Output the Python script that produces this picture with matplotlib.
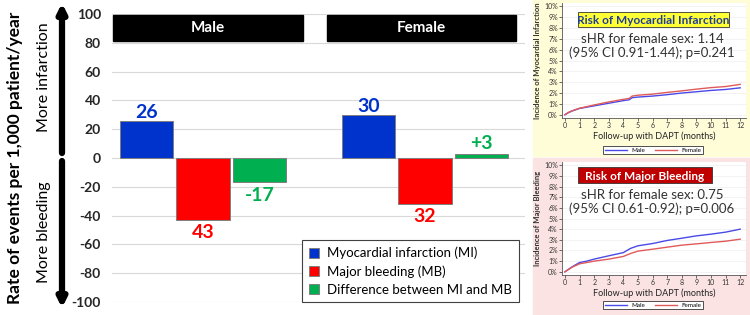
import numpy as np
import matplotlib
matplotlib.use("Agg")
import matplotlib.pyplot as plt
from matplotlib.patches import Rectangle

plt.rcParams['font.family'] = ['Lato', 'DejaVu Sans']

##--------------------------------------##
##               DATA                   ##
##--------------------------------------##
grupos = ["Male", "Female"]
series = ["Myocardial infarction (MI)", "Major bleeding (MB)", "Difference between MI and MB"]
mi = [26, 30]
mb = [-43, -32]
dif = [-17, 3]
etiq_mi = ["26", "30"]
etiq_mb = ["43", "32"]
etiq_dif = ["-17", "+3"]
yticks = [100, 80, 60, 40, 20, 0, -20, -40, -60, -80, -100]

# curvas de incidencia
meses_mi = [0, 0.25, 0.5, 1, 2, 3, 4, 4.4, 4.6, 5, 6, 7, 8, 9, 10, 11, 12]
mi_male = [0, 0.2, 0.35, 0.58, 0.82, 1.06, 1.3, 1.38, 1.57, 1.63, 1.72, 1.85, 2.0, 2.12, 2.24, 2.33, 2.48]
mi_female = [0, 0.22, 0.37, 0.6, 0.9, 1.18, 1.42, 1.5, 1.72, 1.8, 1.9, 2.06, 2.2, 2.36, 2.5, 2.6, 2.8]
sub_mi = ["sHR for female sex: 1.14", "(95% CI 0.91-1.44); p=0.241"]

meses_mb = [0, 0.5, 1, 1.5, 2, 3, 4, 4.5, 5, 6, 7, 8, 9, 10, 11, 12]
mb_male = [0, 0.47, 0.87, 1.0, 1.19, 1.5, 1.8, 2.2, 2.44, 2.65, 2.94, 3.15, 3.37, 3.53, 3.72, 4.0]
mb_female = [0, 0.44, 0.75, 0.87, 1.0, 1.19, 1.44, 1.72, 1.94, 2.12, 2.31, 2.5, 2.62, 2.75, 2.87, 3.06]
sub_mb = ["sHR for female sex: 0.75", "(95% CI 0.61-0.92); p=0.006"]

azul = '#0033CC'
rojo = '#FF0000'
verde = '#00B050'

W, H = 750, 315
fig = plt.figure(figsize=(7.5, 3.15), dpi=100)

def rect(x0, y0, x1, y1):
    # pixeles con origen arriba a la izquierda -> fraccion de figura
    return [x0 / W, 1 - y1 / H, (x1 - x0) / W, (y1 - y0) / H]

##--------------------------------------##
##        FONDOS DE LA DERECHA          ##
##--------------------------------------##
fig.patches.append(Rectangle((533 / W, 1 - 156 / H), 217 / W, 156 / H, transform=fig.transFigure,
                             color='#FFFCD8', zorder=-5))
fig.patches.append(Rectangle((533 / W, 0), 217 / W, 157 / H, transform=fig.transFigure,
                             color='#FBE3E3', zorder=-5))

##--------------------------------------##
##          GRAFICO PRINCIPAL           ##
##--------------------------------------##
ax = fig.add_axes(rect(112, 14, 525, 302))
ax.patch.set_alpha(0)
x = np.arange(len(grupos))
d = 0.255
w = 0.24
ax.bar(x - d, mi, w, color=azul, edgecolor='#7f7f7f', lw=0.7, zorder=3, label=series[0])
ax.bar(x, mb, w, color=rojo, edgecolor='#7f7f7f', lw=0.7, zorder=3, label=series[1])
ax.bar(x + d, dif, w, color=verde, edgecolor='#7f7f7f', lw=0.7, zorder=3, label=series[2])

for i in range(len(grupos)):
    ax.annotate(etiq_mi[i], (x[i] - d, mi[i]), xytext=(0, 0), textcoords='offset points',
                ha='center', va='bottom', color=azul, fontsize=14, fontweight='bold')
    ax.annotate(etiq_mb[i], (x[i], mb[i]), xytext=(0, -3), textcoords='offset points',
                ha='center', va='top', color=rojo, fontsize=14, fontweight='bold')
    if dif[i] < 0:
        ax.annotate(etiq_dif[i], (x[i] + d, dif[i]), xytext=(0, -3), textcoords='offset points',
                    ha='center', va='top', color=verde, fontsize=14, fontweight='bold')
    else:
        ax.annotate(etiq_dif[i], (x[i] + d, dif[i]), xytext=(0, 1), textcoords='offset points',
                    ha='center', va='bottom', color=verde, fontsize=14, fontweight='bold')

# cabeceras negras
cab = [(-0.405, 0.45), (0.56, 1.41)]
for i, (a, b) in enumerate(cab):
    ax.add_patch(Rectangle((a, 81.5), b - a, 17.5, color='black', zorder=4))
    ax.text((a + b) / 2, 90.2, grupos[i], color='white', fontsize=11, fontweight='bold',
            ha='center', va='center', zorder=5)

ax.set_xlim(-0.41, 1.45)
ax.set_ylim(-100, 100)
ax.set_yticks(yticks)
ax.set_yticklabels([str(t) for t in yticks], fontsize=10, fontweight='bold', color='#262626')
ax.set_xticks([])
ax.tick_params(axis='y', length=0, pad=8)
ax.grid(axis='y', color='#d9d9d9', lw=0.8, zorder=0)
for s in ax.spines.values():
    s.set_visible(False)

leg = ax.legend(loc='upper left', bbox_to_anchor=(302 / W, 1 - 240 / H), bbox_transform=fig.transFigure,
                fontsize=9.5, frameon=True, fancybox=False, edgecolor='#404040', framealpha=1,
                handlelength=0.8, handleheight=0.8, borderaxespad=0, labelspacing=0.45,
                handletextpad=0.6, borderpad=0.5)
leg.get_frame().set_linewidth(0.8)

# etiquetas de la izquierda
fig.text(15 / W, 1 - 158 / H, "Rate of events per 1,000 patient/year", rotation=90,
         fontsize=12.5, fontweight='bold', ha='center', va='center')
fig.text(44 / W, 1 - 77 / H, "More infarction", rotation=90, fontsize=11.5,
         ha='center', va='center')
fig.text(44 / W, 1 - 232 / H, "More bleeding", rotation=90, fontsize=11.5,
         ha='center', va='center')
flecha = dict(arrowstyle='-|>,head_width=0.25,head_length=0.5', lw=4.5, color='black',
              shrinkA=0, shrinkB=0)
ax.annotate('', xy=(62, H - 3), xytext=(62, H - 153), xycoords='figure pixels',
            textcoords='figure pixels', arrowprops=flecha, annotation_clip=False)
ax.annotate('', xy=(62, H - 308), xytext=(62, H - 161), xycoords='figure pixels',
            textcoords='figure pixels', arrowprops=flecha, annotation_clip=False)

##--------------------------------------##
##        PANELES DE LA DERECHA         ##
##--------------------------------------##
def panel(y0, y1, meses, male, female, ylab, titulo, tcol, bcol, caja, sub, yleg):
    a = fig.add_axes(rect(562, y0, 746, y1))
    a.plot(meses, male, color='#4a4ae8', lw=1)
    a.plot(meses, female, color='#e05a5a', lw=1)
    a.set_xlim(-0.2, 12.4)
    a.set_ylim(-0.3, 10.3)
    a.set_xticks(range(13))
    a.set_yticks(range(11))
    a.set_yticklabels([f"{v}%" for v in range(11)])
    a.tick_params(labelsize=5, length=2, width=0.5, pad=1, colors='#333333')
    a.grid(axis='y', color='#eeeeee', lw=0.5)
    for s in ['top', 'right']:
        a.spines[s].set_visible(False)
    for s in ['left', 'bottom']:
        a.spines[s].set_color('#555555')
        a.spines[s].set_linewidth(0.6)
    a.set_ylabel(ylab, fontsize=5.5, fontweight='bold', color='#333333', labelpad=2)
    a.set_xlabel("Follow-up with DAPT (months)", fontsize=6.5, color='#222222', labelpad=2)
    l = a.legend(["Male", "Female"], loc='center', bbox_to_anchor=(653 / W, 1 - yleg / H),
                 bbox_transform=fig.transFigure, ncol=2,
                 fontsize=4.5, frameon=True, fancybox=False, edgecolor='#333333', framealpha=1,
                 handlelength=3.5, borderpad=0.25, columnspacing=1.5)
    l.get_frame().set_linewidth(0.6)
    # caja del titulo
    x0, y0c, x1, y1c = caja
    fig.patches.append(Rectangle((x0 / W, 1 - y1c / H), (x1 - x0) / W, (y1c - y0c) / H,
                                 transform=fig.transFigure, facecolor=bcol, edgecolor='#333333',
                                 lw=0.6, zorder=5))
    fig.text((x0 + x1) / 2 / W, 1 - (y0c + y1c) / 2 / H, titulo, fontsize=8.5, fontweight='bold',
             color=tcol, ha='center', va='center_baseline', zorder=6)
    fig.text(652 / W, 1 - (y1c + 12) / H, sub[0], fontsize=9.5, color='#333333',
             ha='center', va='center', zorder=6)
    fig.text(652 / W, 1 - (y1c + 26) / H, sub[1], fontsize=9.5, color='#333333',
             ha='center', va='center', zorder=6)
    return a


panel(3, 118, meses_mi, mi_male, mi_female, "Incidence of Myocardial Infarction",
      "Risk of Myocardial Infarction", '#1F3C9C', '#FFFF33', (578, 12, 729, 27), sub_mi, 150)
panel(162, 275, meses_mb, mb_male, mb_female, "Incidence of Major Bleeding",
      "Risk of Major Bleeding", 'white', '#C00000', (578, 167, 712, 183), sub_mb, 305)

fig.savefig("out.png", dpi=100)
